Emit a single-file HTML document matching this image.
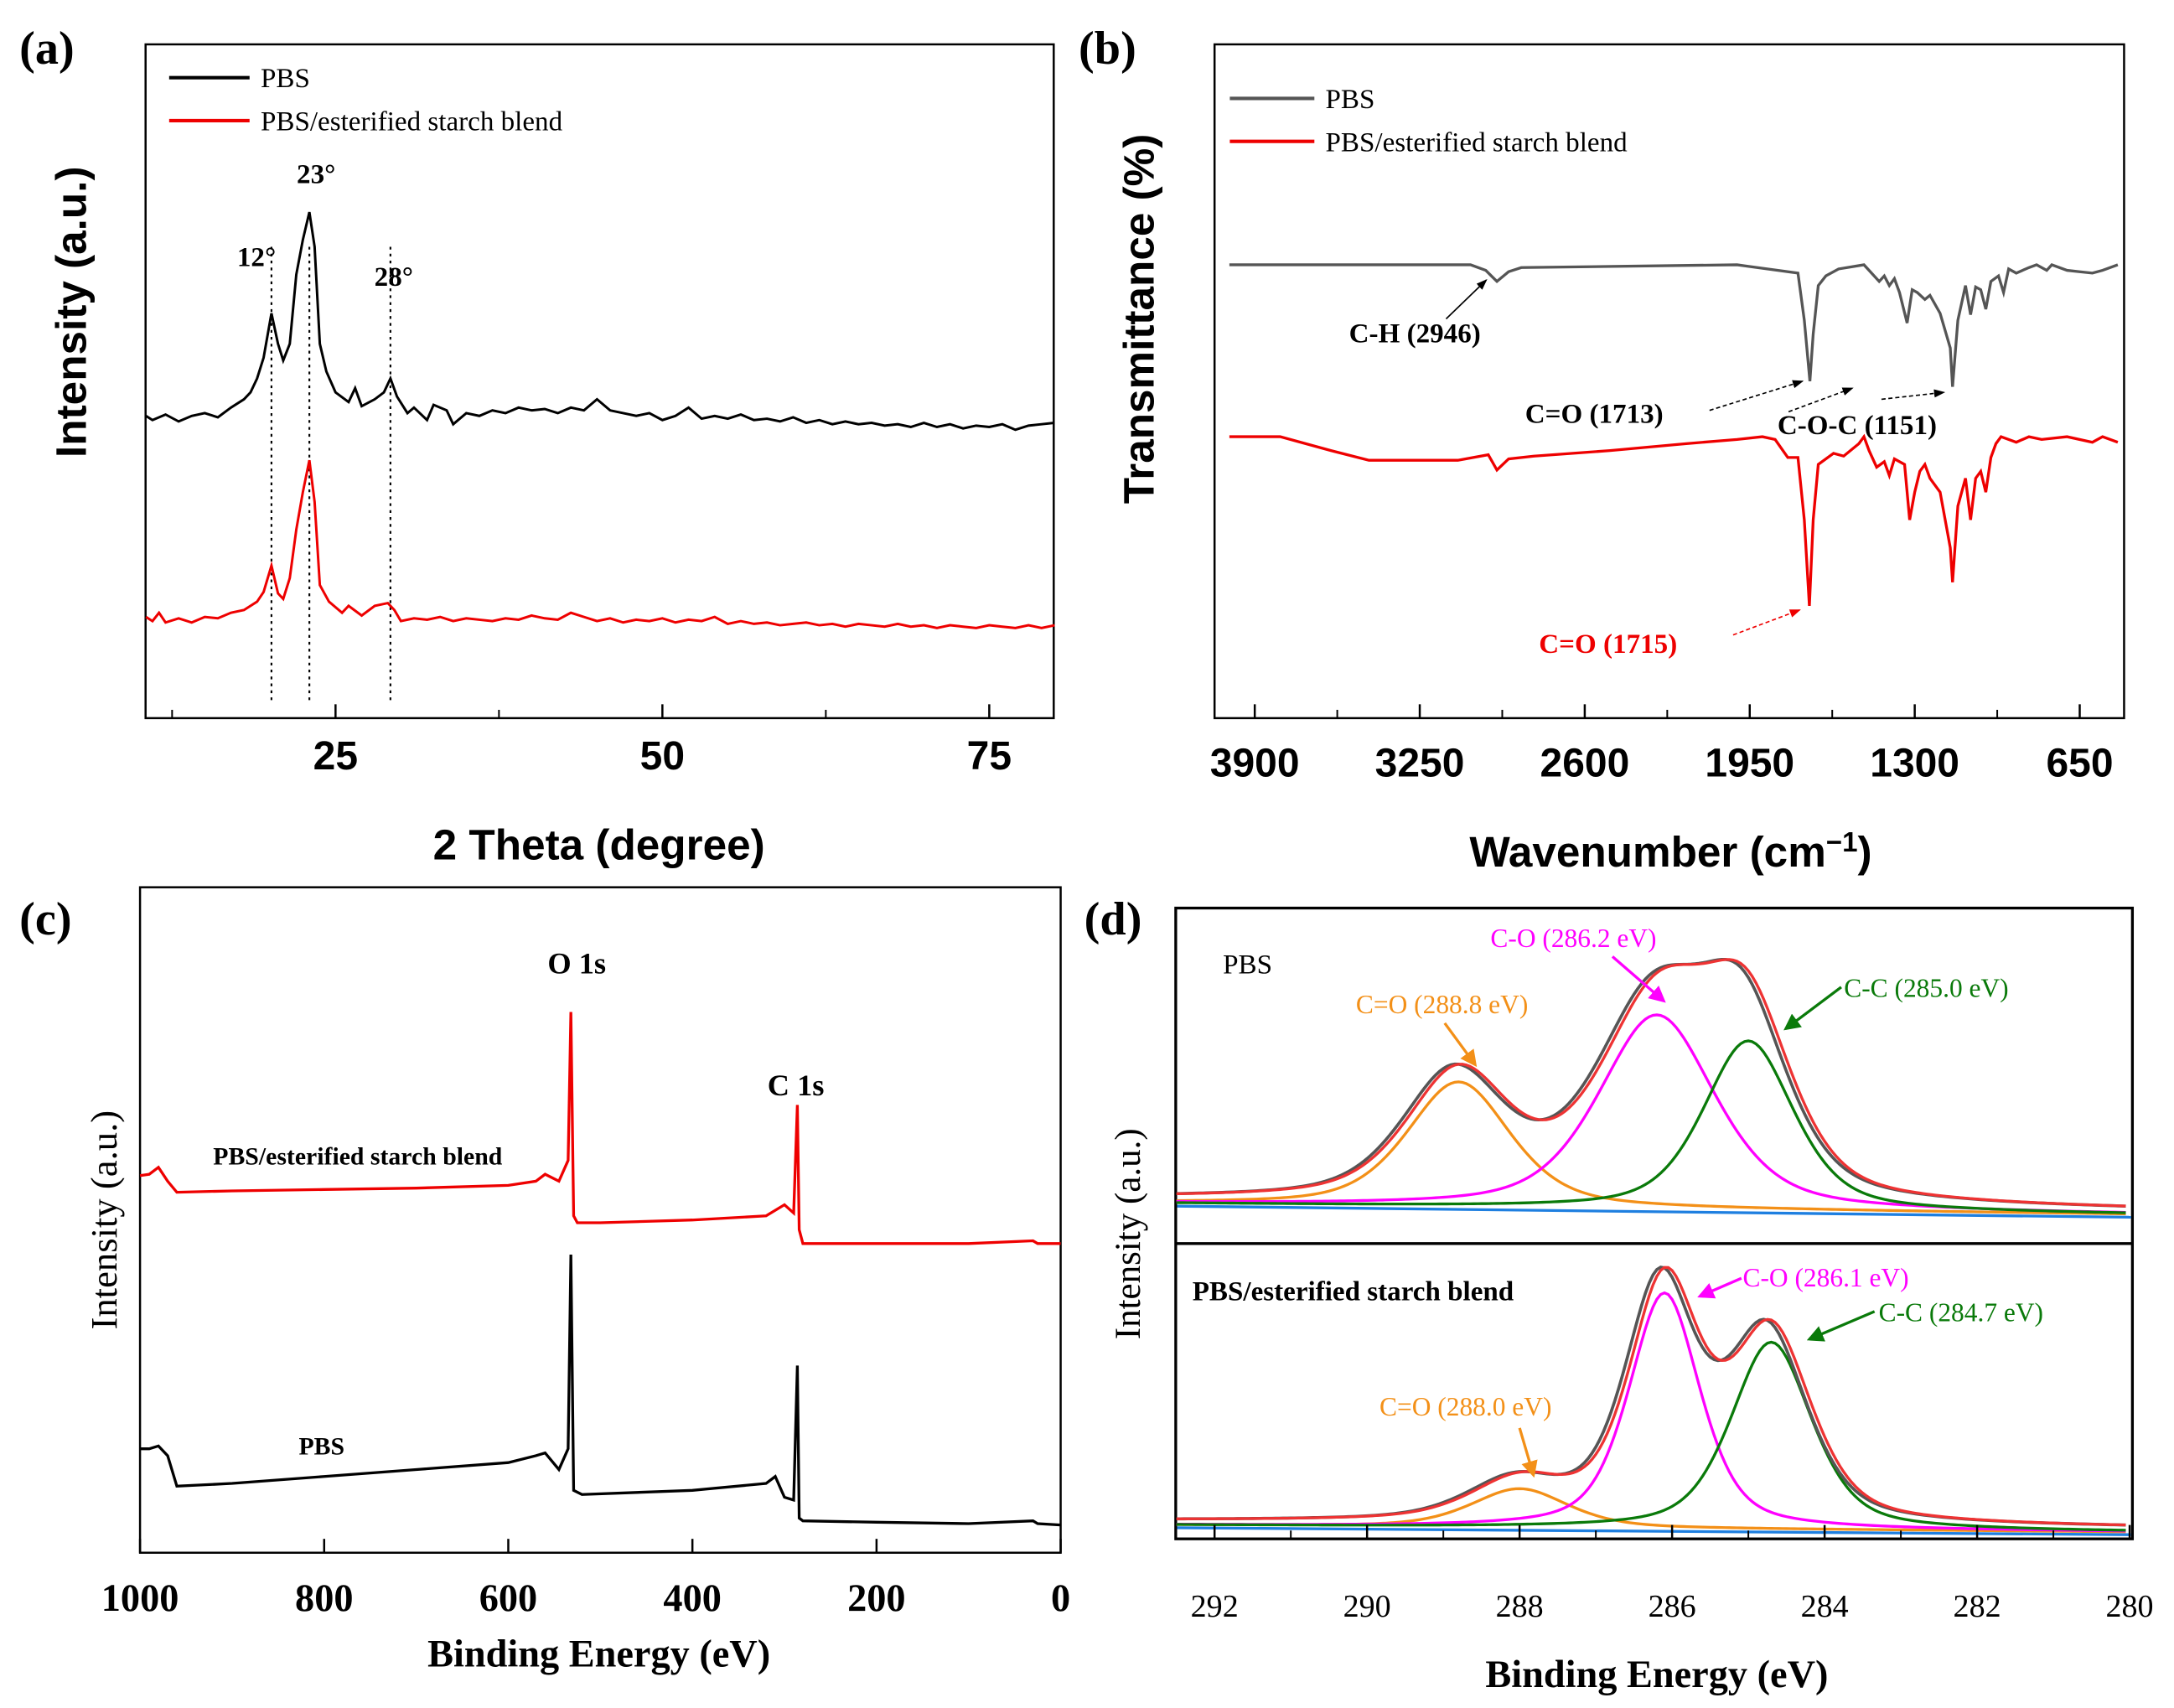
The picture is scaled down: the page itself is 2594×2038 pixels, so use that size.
<!DOCTYPE html>
<html><head><meta charset="utf-8"><style>
html,body{margin:0;padding:0;background:#fff;}
svg{display:block;}
.ser{font-family:"Liberation Serif",serif;}
.san{font-family:"Liberation Sans",sans-serif;font-weight:bold;}
</style></head><body>
<svg id="fig" width="2594" height="2038" viewBox="0 0 1568 1232" preserveAspectRatio="none" xmlns="http://www.w3.org/2000/svg">
<defs>
<marker id="ak" markerWidth="8" markerHeight="8" refX="7" refY="4" orient="auto"><path d="M0,1 L8,4 L0,7 z" fill="#000"/></marker>
<marker id="ar" markerWidth="8" markerHeight="8" refX="7" refY="4" orient="auto"><path d="M0,1 L8,4 L0,7 z" fill="#e00"/></marker>
<marker id="ao" markerWidth="6" markerHeight="6" refX="5" refY="3" orient="auto"><path d="M0,0 L6,3 L0,6 z" fill="#f39018"/></marker>
<marker id="am" markerWidth="6" markerHeight="6" refX="5" refY="3" orient="auto"><path d="M0,0 L6,3 L0,6 z" fill="#f0f"/></marker>
<marker id="ag" markerWidth="6" markerHeight="6" refX="5" refY="3" orient="auto"><path d="M0,0 L6,3 L0,6 z" fill="#0a7a0a"/></marker>
</defs>

<!-- Panel a -->
<g>
<text x="14" y="46" class="ser" font-weight="bold" font-size="34">(a)</text>
<rect x="105" y="32" width="655" height="486" fill="none" stroke="#000" stroke-width="1.5"/>
<g id="ga"></g>
<line x1="122" y1="56" x2="180" y2="56" stroke="#000" stroke-width="2.5"/>
<text x="188" y="63" class="ser" font-size="20">PBS</text>
<line x1="122" y1="87" x2="180" y2="87" stroke="#e00" stroke-width="2.5"/>
<text x="188" y="94" class="ser" font-size="20">PBS/esterified starch blend</text>
<text x="185" y="192" text-anchor="middle" class="ser" font-weight="bold" font-size="20">12°</text>
<text x="228" y="132" text-anchor="middle" class="ser" font-weight="bold" font-size="20">23°</text>
<text x="284" y="206" text-anchor="middle" class="ser" font-weight="bold" font-size="20">28°</text>
<text transform="translate(62,225) rotate(-90)" text-anchor="middle" class="san" font-size="31">Intensity (a.u.)</text>
<text x="432" y="620" text-anchor="middle" class="san" font-size="31">2 Theta  (degree)</text>
</g>

<!-- Panel b -->
<g>
<text x="778" y="46" class="ser" font-weight="bold" font-size="34">(b)</text>
<rect x="876" y="32" width="656" height="486" fill="none" stroke="#000" stroke-width="1.5"/>
<g id="gb"></g>
<line x1="887" y1="71" x2="948" y2="71" stroke="#555" stroke-width="2.5"/>
<text x="956" y="78" class="ser" font-size="20">PBS</text>
<line x1="887" y1="102" x2="948" y2="102" stroke="#e00" stroke-width="2.5"/>
<text x="956" y="109" class="ser" font-size="20">PBS/esterified starch blend</text>
<text x="973" y="247" class="ser" font-weight="bold" font-size="20">C-H (2946)</text>
<line x1="1043" y1="230" x2="1072" y2="202" stroke="#000" marker-end="url(#ak)"/>
<text x="1100" y="305" class="ser" font-weight="bold" font-size="20">C=O (1713)</text>
<line x1="1233" y1="296" x2="1300" y2="275" stroke="#000" stroke-dasharray="3,2" marker-end="url(#ak)"/>
<text x="1282" y="313" class="ser" font-weight="bold" font-size="20">C-O-C (1151)</text>
<line x1="1290" y1="297" x2="1336" y2="280" stroke="#000" stroke-dasharray="3,2" marker-end="url(#ak)"/>
<line x1="1357" y1="288" x2="1402" y2="283" stroke="#000" stroke-dasharray="3,2" marker-end="url(#ak)"/>
<text x="1110" y="471" class="ser" font-weight="bold" font-size="20" fill="#e00">C=O (1715)</text>
<line x1="1250" y1="458" x2="1298" y2="440" stroke="#e00" stroke-dasharray="3,2" marker-end="url(#ar)"/>
<text transform="translate(832,230) rotate(-90)" text-anchor="middle" class="san" font-size="31">Transmittance (%)</text>
<text x="1205" y="625" text-anchor="middle" class="san" font-size="31">Wavenumber (cm<tspan baseline-shift="super" font-size="20">−1</tspan>)</text>
</g>

<!-- Panel c -->
<g>
<text x="14" y="674" class="ser" font-weight="bold" font-size="34">(c)</text>
<rect x="101" y="640" width="664" height="480" fill="none" stroke="#000" stroke-width="1.5"/>
<g id="gc"></g>
<text x="416" y="702" text-anchor="middle" class="ser" font-weight="bold" font-size="22">O 1s</text>
<text x="574" y="790" text-anchor="middle" class="ser" font-weight="bold" font-size="22">C 1s</text>
<text x="258" y="840" text-anchor="middle" class="ser" font-weight="bold" font-size="18">PBS/esterified starch blend</text>
<text x="232" y="1049" text-anchor="middle" class="ser" font-weight="bold" font-size="18">PBS</text>
<text transform="translate(84,880) rotate(-90)" text-anchor="middle" class="ser" font-size="27">Intensity (a.u.)</text>
<text x="432" y="1202" text-anchor="middle" class="ser" font-weight="bold" font-size="28">Binding Energy (eV)</text>
</g>

<!-- Panel d -->
<g>
<text x="782" y="674" class="ser" font-weight="bold" font-size="34">(d)</text>
<rect x="848" y="655" width="690" height="455" fill="none" stroke="#000" stroke-width="2"/>
<line x1="848" y1="897" x2="1538" y2="897" stroke="#000" stroke-width="2"/>
<g id="gd"></g>
<text x="882" y="702" class="ser" font-size="20">PBS</text>
<text x="978" y="731" class="ser" font-size="19" fill="#f39018">C=O (288.8 eV)</text>
<line x1="1042" y1="738" x2="1064" y2="768" stroke="#f39018" stroke-width="2" marker-end="url(#ao)"/>
<text x="1075" y="683" class="ser" font-size="19" fill="#f0f">C-O (286.2 eV)</text>
<line x1="1163" y1="690" x2="1200" y2="722" stroke="#f0f" stroke-width="2" marker-end="url(#am)"/>
<text x="1330" y="719" class="ser" font-size="19" fill="#0a7a0a">C-C (285.0 eV)</text>
<line x1="1328" y1="712" x2="1288" y2="742" stroke="#0a7a0a" stroke-width="2" marker-end="url(#ag)"/>
<text x="860" y="938" class="ser" font-weight="bold" font-size="20">PBS/esterified starch blend</text>
<text x="1257" y="928" class="ser" font-size="19" fill="#f0f">C-O (286.1 eV)</text>
<line x1="1256" y1="922" x2="1226" y2="935" stroke="#f0f" stroke-width="2" marker-end="url(#am)"/>
<text x="1355" y="953" class="ser" font-size="19" fill="#0a7a0a">C-C (284.7 eV)</text>
<line x1="1352" y1="946" x2="1305" y2="966" stroke="#0a7a0a" stroke-width="2" marker-end="url(#ag)"/>
<text x="995" y="1021" class="ser" font-size="19" fill="#f39018">C=O (288.0 eV)</text>
<line x1="1096" y1="1030" x2="1106" y2="1064" stroke="#f39018" stroke-width="2" marker-end="url(#ao)"/>
<text transform="translate(822,890) rotate(-90)" text-anchor="middle" class="ser" font-size="26">Intensity (a.u.)</text>
<text x="1195" y="1217" text-anchor="middle" class="ser" font-weight="bold" font-size="28">Binding Energy (eV)</text>
</g>
</svg>
<script>
var NS = "http://www.w3.org/2000/svg";
// ---- Panel a data (2θ degree, intensity a.u.) ----
var xrdAngle = [10.5,11,12,13,14,15,16,17,18,18.5,19,19.5,20.1,20.6,21,21.5,22,22.5,23,23.4,23.8,24.3,25,26,26.5,27,28,28.7,29.2,29.7,30.5,31,32,32.5,33.5,34,35,36,37,38,39,40,41,42,43,44,45,46,47,48,49,50,51,52,53,54,55,56,57,58,59,60,61,62,63,64,65,66,67,68,69,70,71,72,73,74,75,76,77,78,79,80];
var xrdPBS = [10,7,11,6,10,12,9,16,22,27,37,52,84,62,50,62,112,137,157,132,62,42,27,20,30,17,22,27,37,24,12,16,7,18,14,4,12,10,14,12,16,14,15,12,16,14,22,14,12,10,12,7,10,16,8,10,8,11,7,8,6,9,5,7,4,6,4,5,3,4,2,5,2,4,1,3,2,4,0,3,4,5];
var xrdBlendAngle = [10.5,11,11.5,12,13,14,15,16,17,18,19,19.5,20.1,20.6,21,21.5,22,22.5,23,23.4,23.8,24.5,25.5,26,27,28,29,29.5,30,31,32,33,34,35,36,37,38,39,40,41,42,43,44,45,46,47,48,49,50,51,52,53,54,55,56,57,58,59,60,61,62,63,64,65,66,67,68,69,70,71,72,73,74,75,76,77,78,79,80];
var xrdBlend = [7,4,10,3,6,3,7,6,10,12,18,25,44,24,20,35,70,97,120,90,30,18,10,15,8,15,17,12,4,6,5,7,4,6,5,4,6,5,8,6,5,10,7,4,6,3,5,4,6,3,5,4,7,2,4,2,3,1,2,3,1,2,0,2,1,0,2,0,1,-1,1,0,-1,1,0,-1,1,-1,1];
var xrdTicks = [25,50,75];
var xrdMinor = [12.5,37.5,62.5];
var xrdMarkers = [20.1,23.0,29.2];
// ---- Panel b data (wavenumber, absorption depth) ----
var ftirWnPBS = [4000,3050,2990,2946,2900,2850,2000,1960,1760,1735,1713,1700,1680,1650,1600,1500,1470,1440,1420,1400,1380,1360,1330,1310,1290,1260,1240,1200,1160,1151,1130,1100,1080,1060,1040,1020,1000,970,950,930,900,850,820,780,760,700,650,600,560,500];
var ftirPBS = [0,0,4,12,5,2,0,1,6,40,84,50,15,8,3,0,6,12,8,15,10,20,42,18,20,25,22,35,60,88,40,15,36,16,18,32,12,8,20,3,6,2,0,4,0,4,5,6,4,0];
var ftirWnBlend = [4000,3800,3600,3450,3100,2980,2946,2900,2800,2500,2200,2000,1900,1850,1800,1760,1735,1715,1700,1680,1620,1580,1520,1500,1480,1450,1420,1400,1380,1340,1320,1300,1280,1260,1240,1200,1160,1151,1130,1100,1080,1060,1040,1020,1000,980,960,900,850,800,700,600,560,500];
var ftirBlend = [0,0,10,17,17,13,24,16,14,10,5,2,0,2,15,15,60,122,60,20,12,14,5,0,10,22,18,28,16,20,60,40,25,20,30,40,80,105,50,30,60,30,25,40,15,5,0,4,0,2,0,4,0,4];
var ftirTicks = [3900,3250,2600,1950,1300,650];
var ftirMinor = [3575,2925,2275,1625,975];
// ---- Panel c data (binding energy eV, counts a.u.) ----
var xpsEBlend = [1000,990,980,970,960,900,800,700,600,570,560,545,535,532,529,525,500,400,320,300,290,286,284,280,200,100,30,25,0];
var xpsBlend = [49,50,55,45,37,38,39,40,42,45,50,45,60,167,20,15,15,17,20,28,22,100,10,0,0,0,2,0,0];
var xpsEPBS = [1000,990,980,970,960,900,800,700,600,570,560,545,535,532,529,520,400,320,310,300,290,286,284,280,200,100,30,25,0];
var xpsPBS = [55,55,57,50,28,30,35,40,45,50,52,40,55,195,25,22,25,30,35,20,18,115,5,3,2,1,3,1,0];
var xpsTicks = [1000,800,600,400,200,0];
// ---- Panel d data (C1s peak fits) ----
var c1sTicks = [292,290,288,286,284,282,280];
var c1sMinor = [291,289,287,285,283,281];
var pbsCenters = [288.8,286.2,285.0];
var pbsHeights = [90,140,122];
var pbsFwhm = [1.6,1.8,1.4];
var blendCenters = [288.0,286.1,284.7];
var blendHeights = [28,170,135];
var blendFwhm = [1.5,1.1,1.25];
var compColors = ["#f39018","#f0f","#0a7a0a"];
var compNames = ["c-eq-o","c-o","c-c"];

function el(parent, tag, attrs){var e=document.createElementNS(NS,tag);for(var k in attrs)e.setAttribute(k,attrs[k]);parent.appendChild(e);return e;}
function pathFrom(xs, ys, fx, fy){var d="";for(var i=0;i<xs.length;i++){d+=(i?"L":"M")+fx(xs[i]).toFixed(2)+","+fy(ys[i]).toFixed(2);}return d;}

// ---- Panel a ----
(function(){
 var g=document.getElementById("ga");
 var X=function(v){return 242+(v-25)*9.43;};
 var Yk=function(v){return 310-v;};
 var Yr=function(v){return 452-v;};
 xrdMarkers.forEach(function(m){
  var ln=el(g,"line",{x1:X(m),x2:X(m),y1:178,y2:505,stroke:"#000","stroke-width":1.3,"stroke-dasharray":"2,3"});
  
  
 });
 var p1=el(g,"path",{d:pathFrom(xrdAngle,xrdPBS,X,Yk),fill:"none",stroke:"#000","stroke-width":1.8});
 
 
 var p2=el(g,"path",{d:pathFrom(xrdBlendAngle,xrdBlend,X,Yr),fill:"none",stroke:"#e00","stroke-width":1.8});
 
 
 xrdTicks.forEach(function(t){
  var tk=el(g,"line",{x1:X(t),x2:X(t),y1:518,y2:508,stroke:"#000","stroke-width":1.5});
  
  
  var tx=el(g,"text",{x:X(t),y:555,"text-anchor":"middle","class":"san","font-size":29});
  tx.textContent=t;
  
  
 });
 xrdMinor.forEach(function(t){
  var tk=el(g,"line",{x1:X(t),x2:X(t),y1:518,y2:512,stroke:"#000","stroke-width":1.2});
  
  
 });
})();

// ---- Panel b ----
(function(){
 var g=document.getElementById("gb");
 var X=function(w){return 905+(3900-w)/650*119;};
 var clipX=function(w){return Math.max(877,Math.min(1531,X(w)));};
 var Yg=function(v){return 191+v;};
 var Yr=function(v){return 315+v;};
 var p1=el(g,"path",{d:pathFrom(ftirWnPBS,ftirPBS,clipX,Yg),fill:"none",stroke:"#555","stroke-width":2});
 
 
 var p2=el(g,"path",{d:pathFrom(ftirWnBlend,ftirBlend,clipX,Yr),fill:"none",stroke:"#e00","stroke-width":2});
 
 
 ftirTicks.forEach(function(t){
  var tk=el(g,"line",{x1:X(t),x2:X(t),y1:518,y2:508,stroke:"#000","stroke-width":1.5});
  
  
  var tx=el(g,"text",{x:X(t),y:560,"text-anchor":"middle","class":"san","font-size":29});
  tx.textContent=t;
  
  
 });
 ftirMinor.forEach(function(t){
  var tk=el(g,"line",{x1:X(t),x2:X(t),y1:518,y2:512,stroke:"#000","stroke-width":1.2});
  
  
 });
})();

// ---- Panel c ----
(function(){
 var g=document.getElementById("gc");
 var X=function(e){return 101+(1000-e)*0.664;};
 var Yr=function(v){return 897-v;};
 var Yk=function(v){return 1100-v;};
 var p1=el(g,"path",{d:pathFrom(xpsEBlend,xpsBlend,X,Yr),fill:"none",stroke:"#e00","stroke-width":2});
 
 
 var p2=el(g,"path",{d:pathFrom(xpsEPBS,xpsPBS,X,Yk),fill:"none",stroke:"#000","stroke-width":2});
 
 
 xpsTicks.forEach(function(t){
  var tk=el(g,"line",{x1:X(t),x2:X(t),y1:1120,y2:1110,stroke:"#000","stroke-width":1.5});
  
  
  var tx=el(g,"text",{x:X(t),y:1162,"text-anchor":"middle","class":"ser","font-weight":"bold","font-size":28});
  tx.textContent=t;
  
  
 });
})();

// ---- Panel d ----
(function(){
 var g=document.getElementById("gd");
 var X=function(e){return 876+(292-e)*55;};
 var grid=[];for(var e=292.5;e>=280.0;e-=0.05)grid.push(e);
 function pv(e,c,h,w){var u=(e-c)/w;var G=Math.exp(-4*Math.LN2*u*u);var L=1/(1+4*u*u);return h*(0.5*G+0.5*L);}
 function draw(centers,heights,fw,b0,b1,tag){
  var base=function(e){return b0+(292.5-e)/12.5*(b1-b0);};
  var bl=el(g,"line",{x1:849,x2:1537,y1:base(292.5)+2,y2:base(280)+2,stroke:"#1e7fe0","stroke-width":2});
  
  
  for(var k=0;k<centers.length;k++){
   var ys=grid.map(function(e){return base(e)-pv(e,centers[k],heights[k],fw[k]);});
   var p=el(g,"path",{d:pathFrom(grid,ys,X,function(v){return v;}),fill:"none",stroke:compColors[k],"stroke-width":2});
   
   
  }
  var env=function(sh){return grid.map(function(e){var s=0;for(var k=0;k<centers.length;k++)s+=pv(e+sh,centers[k],heights[k],fw[k]);return base(e)-s-3;});};
  var pg=el(g,"path",{d:pathFrom(grid,env(-0.06),X,function(v){return v;}),fill:"none",stroke:"#555","stroke-width":2.2});
  
  
  var pr=el(g,"path",{d:pathFrom(grid,env(0),X,function(v){return v;}),fill:"none",stroke:"#e33","stroke-width":2});
  
  
 }
 draw(pbsCenters,pbsHeights,pbsFwhm,868,876,"pbs");
 draw(blendCenters,blendHeights,blendFwhm,1100,1105,"blend");
 c1sTicks.forEach(function(t){
  var tk=el(g,"line",{x1:X(t),x2:X(t),y1:1110,y2:1100,stroke:"#000","stroke-width":1.5});
  
  
  var tx=el(g,"text",{x:X(t),y:1166,"text-anchor":"middle","class":"ser","font-size":23});
  tx.textContent=t;
  
  
 });
 c1sMinor.forEach(function(t){
  var tk=el(g,"line",{x1:X(t),x2:X(t),y1:1110,y2:1104,stroke:"#000","stroke-width":1.2});
  
  
 });
})();
</script>
</body></html>
